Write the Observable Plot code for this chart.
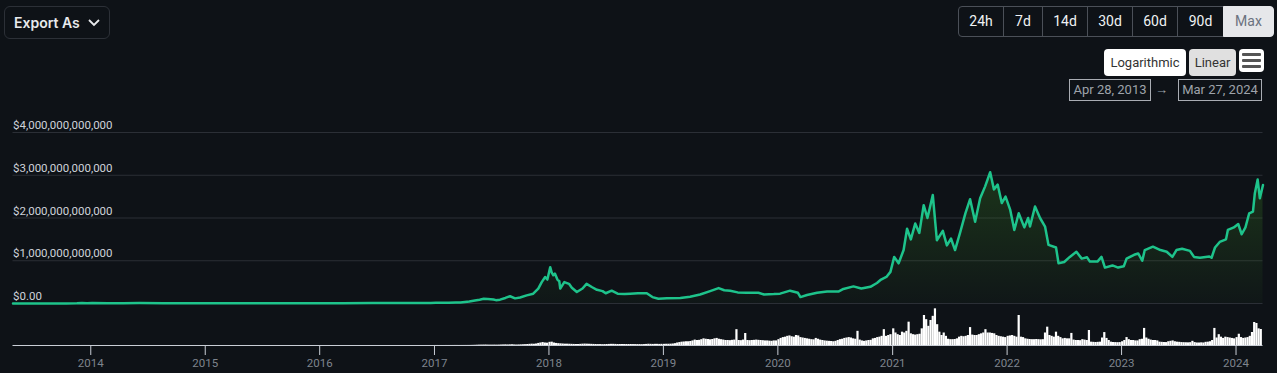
<!DOCTYPE html>
<html><head><meta charset="utf-8">
<script src="https://cdn.jsdelivr.net/npm/d3@7"></script>
<script src="https://cdn.jsdelivr.net/npm/@observablehq/plot@0.6"></script>
<style>
html,body{margin:0;padding:0;background:#0e1217;}
#wrap{position:relative;width:1277px;height:373px;overflow:hidden;background:#0e1217;font-family:Roboto,"Noto Sans",sans-serif;}
.abs{position:absolute;box-sizing:border-box;}
.export{left:4px;top:6px;width:106px;height:33px;border:1px solid #2c3037;border-radius:6px;color:#e8eaed;font-family:Inter,Roboto,sans-serif;font-weight:600;font-size:14px;line-height:31px;padding-left:9px;}
.export svg{position:absolute;left:83px;top:12px;}
.rb{top:6px;height:31px;border:1px solid #4b5058;color:#f0f2f4;font-size:14px;line-height:29px;text-align:center;}
.rb.sel{background:#e6e7ea;color:#6b7280;border-color:#e6e7ea;}
.sc{top:49px;height:27px;border-radius:4px;color:#333;font-size:13px;line-height:27px;text-align:center;}
.menu{left:1239px;top:49px;width:25px;height:23px;background:#fff;border-radius:4px;}
.menu i{position:absolute;left:3px;width:19px;height:3px;background:#555;border-radius:1px;}
.date{top:79px;height:22px;border:1px solid #a9adb3;color:#9ea3aa;font-size:13px;line-height:20px;text-align:center;}
.arrow{left:1155px;top:80px;color:#9ea3aa;font-size:13px;line-height:20px;}
#p1,#p2{position:absolute;left:0;}
#p1{top:0;} #p2{top:305px;}
</style></head>
<body><div id="wrap">
<div class="abs export">Export As<svg width="12" height="8" viewBox="0 0 12 8"><polyline points="1,1 6,6 11,1" fill="none" stroke="#e8eaed" stroke-width="1.8"/></svg></div>
<div id="ranges"></div>
<div class="abs sc" style="left:1104px;width:82px;background:#fff;">Logarithmic</div>
<div class="abs sc" style="left:1189px;width:47px;background:#e0e0e0;">Linear</div>
<div class="abs menu"><i style="top:4px"></i><i style="top:10px"></i><i style="top:16px"></i></div>
<div class="abs date" style="left:1069px;width:82px;">Apr 28, 2013</div>
<div class="abs arrow">→</div>
<div class="abs date" style="left:1178px;width:84px;">Mar 27, 2024</div>
<div id="p1"></div>
<div id="p2"></div>
</div>
<script>
// ---- range buttons ----
const rangeLabels = ["24h","7d","14d","30d","60d","90d","Max"];
const rangeWidths = [45,39,45,45,45,46,50];

// ---- axis ticks ----
const yTicks = [0,1,2,3,4]; // trillions of USD
const xTickYears = [2014,2015,2016,2017,2018,2019,2020,2021,2022,2023,2024];
const domainStart = "2013-04-28";
const domainEnd = "2024-03-27";

// ---- market cap (trillions USD) ----
const capDates = ["2013-04-28","2013-06-15","2013-08-15","2013-10-15","2013-11-18","2013-12-04","2013-12-20","2014-01-05","2014-02-25","2014-04-15","2014-06-05","2014-08-20","2014-10-15","2014-12-15","2015-01-15","2015-04-15","2015-07-15","2015-09-15","2015-11-05","2016-01-15","2016-03-15","2016-06-16","2016-08-15","2016-10-15","2016-12-20","2017-01-05","2017-02-15","2017-03-10","2017-03-25",
"2017-04-22","2017-05-10","2017-05-25","2017-06-07","2017-06-20","2017-07-08","2017-07-16","2017-07-29","2017-08-15","2017-08-30","2017-09-15","2017-10-01","2017-10-22","2017-11-12","2017-11-28","2017-12-09","2017-12-20","2017-12-27",
"2018-01-05","2018-01-10","2018-01-15","2018-01-20","2018-01-28","2018-02-03","2018-02-06","2018-02-19","2018-03-06","2018-03-15","2018-03-31","2018-04-18","2018-05-01","2018-05-19","2018-06-03","2018-06-21","2018-07-01","2018-07-20","2018-08-08","2018-08-31","2018-09-17","2018-10-12","2018-11-09","2018-11-27","2018-12-16",
"2019-01-12","2019-02-24","2019-03-27","2019-04-28","2019-05-30","2019-06-26","2019-07-14","2019-08-02","2019-08-26","2019-09-24","2019-10-31","2019-11-18","2019-12-19",
"2020-01-08","2020-02-09","2020-03-05","2020-03-13","2020-04-03","2020-05-05","2020-06-06","2020-07-12","2020-07-28","2020-08-29","2020-09-23","2020-10-22","2020-11-12","2020-11-25","2020-12-12","2020-12-25",
"2021-01-06","2021-01-20","2021-02-05","2021-02-16","2021-02-28","2021-03-14","2021-03-27","2021-04-10","2021-04-22","2021-05-09","2021-05-22","2021-06-10","2021-06-23","2021-07-06","2021-07-19","2021-08-05","2021-08-21","2021-09-05","2021-09-21","2021-10-07","2021-10-23","2021-11-08","2021-11-20","2021-12-02","2021-12-15","2021-12-27",
"2022-01-11","2022-01-24","2022-02-07","2022-02-25","2022-03-09","2022-03-15","2022-03-31","2022-04-16","2022-05-02","2022-05-13","2022-06-06","2022-06-14","2022-07-02","2022-07-20","2022-08-10","2022-08-27","2022-09-13","2022-09-22","2022-10-16","2022-10-29","2022-11-09","2022-12-03","2022-12-21",
"2023-01-08","2023-01-17","2023-02-10","2023-02-23","2023-03-08","2023-03-16","2023-04-11","2023-05-05","2023-05-25","2023-06-12","2023-06-25","2023-07-13","2023-08-07","2023-08-20","2023-09-08","2023-10-08","2023-10-15","2023-10-26","2023-11-10","2023-11-30","2023-12-06","2023-12-25",
"2024-01-08","2024-01-19","2024-01-31","2024-02-12","2024-02-24","2024-03-01","2024-03-10","2024-03-17","2024-03-27"];
const capValues = [0.0015,0.0012,0.0012,0.0017,0.006,0.014,0.008,0.011,0.008,0.006,0.009,0.007,0.0055,0.0045,0.003,0.0035,0.0045,0.0036,0.0062,0.0065,0.0075,0.011,0.0095,0.0105,0.0135,0.018,0.019,0.025,0.021,
0.045,0.07,0.09,0.11,0.105,0.094,0.078,0.09,0.13,0.17,0.12,0.14,0.19,0.23,0.35,0.5,0.62,0.56,
0.85,0.72,0.66,0.7,0.56,0.52,0.35,0.5,0.46,0.37,0.27,0.35,0.46,0.38,0.32,0.29,0.24,0.3,0.23,0.22,0.23,0.24,0.24,0.15,0.11,
0.125,0.13,0.16,0.21,0.29,0.36,0.31,0.3,0.26,0.25,0.25,0.21,0.22,
0.23,0.3,0.25,0.15,0.2,0.25,0.28,0.28,0.34,0.4,0.35,0.39,0.48,0.56,0.62,0.74,
1.09,0.94,1.25,1.75,1.5,1.87,1.65,2.3,2.0,2.54,1.48,1.7,1.36,1.52,1.25,1.68,2.11,2.44,1.91,2.46,2.74,3.07,2.67,2.78,2.35,2.5,
2.19,1.72,2.11,1.78,2.0,1.8,2.27,2.0,1.8,1.37,1.31,0.94,0.97,1.09,1.21,1.05,1.08,0.98,0.98,1.09,0.84,0.89,0.84,
0.87,1.05,1.14,1.17,1.0,1.25,1.33,1.25,1.21,1.09,1.25,1.28,1.23,1.09,1.07,1.1,1.07,1.31,1.44,1.5,1.72,1.78,
1.86,1.62,1.78,2.11,2.15,2.58,2.9,2.46,2.77];

// ---- volume (billions USD) ----
const earlyVolStartYear = 2013, earlyVolStartMonth = 4; // monthly from May 2013
const earlyVol = [0.05,0.04,0.03,0.03,0.03,0.05,0.25,0.35,
0.1,0.08,0.06,0.05,0.04,0.04,0.03,0.03,0.03,0.03,0.03,0.03,
0.03,0.03,0.03,0.03,0.02,0.02,0.03,0.03,0.02,0.03,0.06,0.05,
0.04,0.04,0.05,0.05,0.07,0.12,0.1,0.1,0.08,0.08,0.1,0.12];
const volYears = [2017,2018,2019,2020,2021,2022,2023,2024]; // weekly from Jan 1 of each year
const vol2017 = [0.3,0.4,0.3,0.3,0.3,0.4,0.4,0.5,0.6,0.8,0.7,0.6,0.7,0.8,0.9,1.0,1.2,1.8,2.5,3.5,4.5,5,5.5,6,5,4.5,4.5,5,4.5,5,6,7,8,7,8,9,7,6,7,8,9,10,12,14,16,15,18,25,30,35,30,28];
const vol2018 = [38,40,30,25,22,20,18,16,16,15,14,13,12,12,14,16,17,16,15,14,13,12,11,11,10,11,12,13,14,14,13,12,12,12,12,12,12,12,11,11,11,11,10,11,13,15,14,13,14,14,13,14];
const vol2019 = [14,15,15,16,18,22,30,35,40,42,45,45,48,55,65,60,62,70,80,75,72,68,72,80,85,75,70,65,60,60,58,62,65,190,60,58,65,144,60,58,60,62,65,62,60,58,55,55,52,50,55,55];
const vol2020 = [70,85,95,100,110,115,105,100,120,115,95,90,85,80,75,70,68,85,75,65,60,55,52,50,48,45,50,60,70,75,85,90,95,90,80,75,170,65,55,50,55,60,62,80,85,95,100,110,190,110,120,130];
const vol2021 = [200,150,130,120,160,150,170,280,140,130,125,130,135,200,360,310,230,300,350,440,250,160,120,150,110,75,70,70,72,80,100,110,105,110,120,215,125,120,120,130,140,150,190,150,150,145,140,120,110,105,100,95];
const vol2022 = [110,115,120,110,100,360,100,95,80,75,72,70,70,72,70,68,70,150,220,120,110,100,160,110,95,80,85,80,80,145,65,60,60,58,70,65,60,180,40,38,36,38,40,90,155,85,60,40,36,35,34,35];
const vol2023 = [45,60,95,70,60,60,55,55,70,75,205,90,75,65,60,60,55,40,38,36,35,45,50,55,45,40,38,35,34,33,32,34,50,35,30,30,32,30,38,40,45,60,205,90,130,100,85,100,95,90,85,80];
const vol2024 = [95,135,95,85,90,95,110,156,276,264,200,192];
const volWeekly = [vol2017,vol2018,vol2019,vol2020,vol2021,vol2022,vol2023,vol2024];

// ---- build tables ----
const cap = capDates.map((d,i)=>({date:new Date(d+"T00:00:00Z"), v:capValues[i]}));
const vol = [];
earlyVol.forEach((v,i)=>vol.push({start:new Date(Date.UTC(earlyVolStartYear,earlyVolStartMonth+i,1)), end:new Date(Date.UTC(earlyVolStartYear,earlyVolStartMonth+i+1,1)), v}));
volYears.forEach((y,k)=>volWeekly[k].forEach((v,i)=>vol.push({start:new Date(Date.UTC(y,0,1+7*i)), end:new Date(Date.UTC(y,0,8+7*i)), v})));
const xDomain = [new Date(domainStart+"T00:00:00Z"), new Date(domainEnd+"T00:00:00Z")];
const xTicks = xTickYears.map(y=>new Date(Date.UTC(y,0,1)));
const W = 1277, ML = 12.5, MR = 14.5;

// range buttons
(function(){
  const host = document.getElementById("ranges");
  let left = 958;
  rangeLabels.forEach((t,i)=>{
    const d = document.createElement("div");
    d.className = "abs rb" + (t==="Max"?" sel":"");
    d.style.left = left+"px"; d.style.width = (rangeWidths[i]+1)+"px";
    if(i===0) d.style.borderRadius="4px 0 0 4px";
    if(i===rangeLabels.length-1) d.style.borderRadius="0 4px 4px 0";
    d.textContent = t;
    host.appendChild(d);
    left += rangeWidths[i];
  });
})();

const gradientDefs = () => {
  const ns = "http://www.w3.org/2000/svg";
  const g = document.createElementNS(ns,"defs");
  g.innerHTML = '<linearGradient id="capfill" x1="0" x2="0" y1="0" y2="1"><stop offset="0" stop-color="rgb(60,135,35)" stop-opacity="0.30"/><stop offset="1" stop-color="rgb(60,135,35)" stop-opacity="0.04"/></linearGradient>';
  return g;
};
const yFmt = v => v===0 ? "$0.00" : "$" + d3.format(",.0f")(v*1e12);

const p1 = Plot.plot({
  width: W, height: 305, marginTop: 132, marginBottom: 2, marginLeft: ML, marginRight: MR,
  style: {background:"transparent", overflow:"visible", fontFamily:"Roboto, sans-serif"},
  x: {type:"utc", domain: xDomain, axis: null},
  y: {domain: [0,4], axis: null},
  marks: [
    gradientDefs,
    Plot.gridY(yTicks, {stroke:"#2b2f36", strokeOpacity:1, strokeWidth:1}),
    Plot.areaY(cap, {x:"date", y:"v", fill:"url(#capfill)"}),
    Plot.lineY(cap, {x:"date", y:"v", stroke:"#1ec38b", strokeWidth:2.5, strokeLinejoin:"round"}),
    Plot.text(yTicks, {y: d=>d, frameAnchor:"left", text: yFmt, textAnchor:"start", dy:-7, fill:"#cfd3da", fontSize:11.5})
  ]
});
document.getElementById("p1").appendChild(p1);

const p2 = Plot.plot({
  width: W, height: 68, marginTop: 0, marginBottom: 28, marginLeft: ML, marginRight: MR,
  style: {background:"transparent", overflow:"visible", fontFamily:"Roboto, sans-serif"},
  x: {type:"utc", domain: xDomain},
  y: {domain: [0,480], axis: null},
  marks: [
    Plot.rectY(vol, {x1:"start", x2:"end", y:"v", fill:"#ffffff"}),
    Plot.ruleY([0], {stroke:"#c9ced6", strokeWidth:1}),
    Plot.axisX(xTicks, {tickSize:10, tickPadding:3, stroke:"#c9ced6", fill:"#7e848d", fontSize:11.5, tickFormat: d3.utcFormat("%Y")})
  ]
});
document.getElementById("p2").appendChild(p2);
</script>
</body></html>
